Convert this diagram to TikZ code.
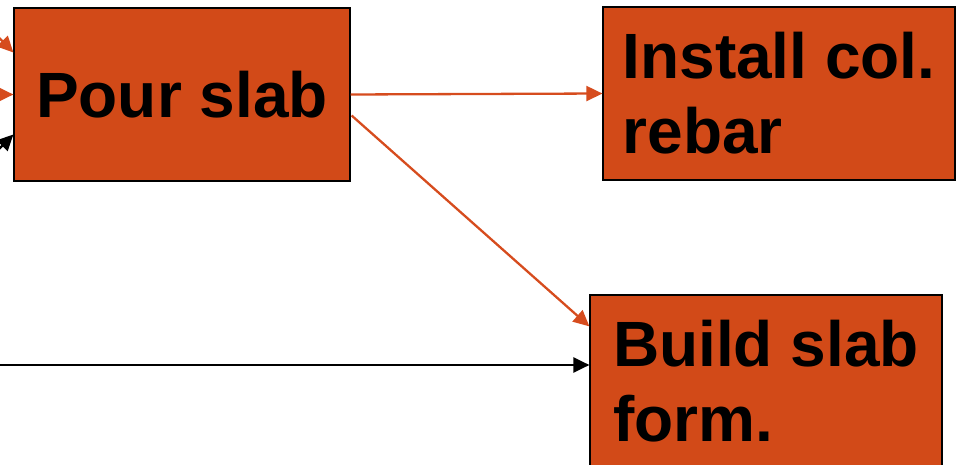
\documentclass[tikz,border=0pt]{standalone}
\usepackage{fontspec}
\setmainfont{Liberation Sans}
\usetikzlibrary{arrows.meta}
\definecolor{taskfill}{RGB}{210,74,24}
\definecolor{linkorange}{RGB}{214,76,30}
\tikzset{
  task/.style={draw=black, line width=1.2pt, fill=taskfill, minimum height=173pt,
    align=left, inner sep=0pt, text=black,
    font=\fontsize{64}{75}\selectfont\bfseries},
  link/.style={line width=2.3pt, -{Triangle[length=16pt,width=15pt]}},
  olink/.style={link, draw=linkorange, color=linkorange},
  blink/.style={link, draw=black}
}
\begin{document}
\begin{tikzpicture}[x=1pt, y=-1pt]
  \useasboundingbox (0,0) rectangle (956,465);
  \clip (0,0) rectangle (956,465);

  % activity boxes
  \node[task, minimum width=336pt] (pour) at (182,94.5) {Pour slab};
  \node[task, minimum width=352pt] (rebar) at (779,93.5) {Install col.\\rebar};
  \node[task, minimum width=352pt] (form) at (766,381.5) {Build slab\\form.};

  % incoming links from predecessors on the left
  \coordinate (predA) at (-30,8);
  \coordinate (predB) at ([xshift=-40pt]pour.west);
  \coordinate (predC) at (-30,178);
  \coordinate (predD) at (-5,365);
  \draw[olink] (predA) -- ([yshift=42pt]pour.west);
  \draw[olink] (predB) -- (pour.west);
  \draw[blink] (predC) -- ([yshift=-40pt]pour.west);
  \draw[blink] (predD) -- (predD -| form.west);

  % outgoing links
  \draw[olink] (pour.east) -- (rebar.west);
  \draw[olink] ([xshift=1pt,yshift=-21pt]pour.east) -- ([yshift=-32pt]form.north west);
\end{tikzpicture}
\end{document}
